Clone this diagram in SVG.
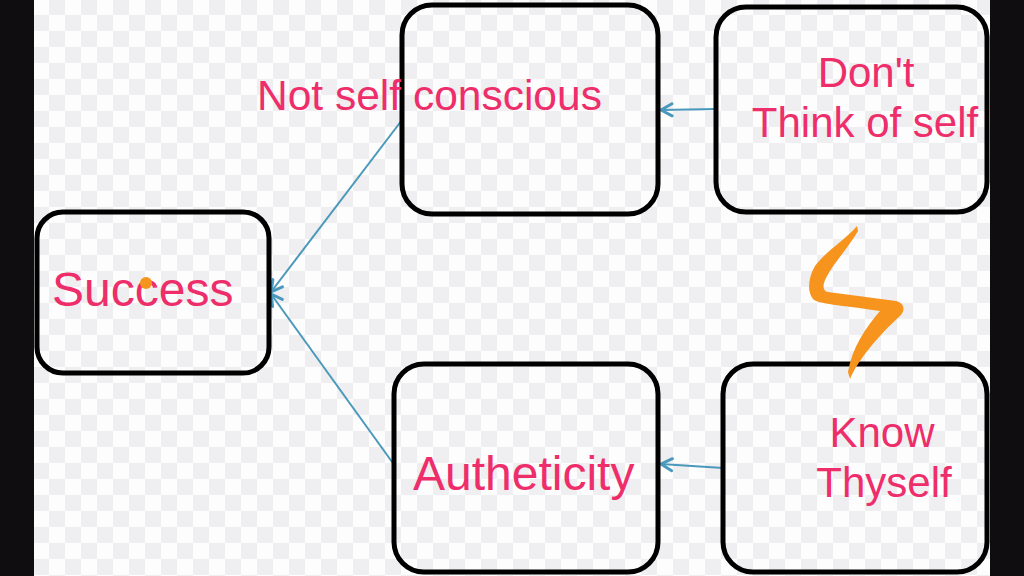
<svg xmlns="http://www.w3.org/2000/svg" width="1024" height="576" viewBox="0 0 1024 576">
<defs>
<pattern id="chk" x="33" y="-1" width="32" height="32" patternUnits="userSpaceOnUse">
<rect width="32" height="32" fill="#fdfdfd"/>
<rect x="16" y="0" width="16" height="16" fill="#efeef0"/>
<rect x="0" y="16" width="16" height="16" fill="#efeef0"/>
</pattern>
<marker id="ah" viewBox="0 0 16 16" refX="14" refY="8" markerWidth="16" markerHeight="16" markerUnits="userSpaceOnUse" orient="auto">
<path d="M3,2 L14,8 L3,14" fill="none" stroke="#4a98bb" stroke-width="3" stroke-linecap="round" stroke-linejoin="round"/>
</marker>
<style>
.box{fill:none;stroke:#000;stroke-width:5}
.lbl{font-family:"Liberation Sans",Arial,sans-serif;fill:#ee2e6b}
.con{fill:none;stroke:#4a98bb;stroke-width:2;marker-end:url(#ah)}
</style>
</defs>
<rect width="1024" height="576" fill="url(#chk)"/>
<rect x="0" y="0" width="34" height="576" fill="#0f0d10"/>
<rect x="990" y="0" width="34" height="576" fill="#0f0d10"/>
<g id="connectors">
<line class="con" x1="402" y1="120" x2="271" y2="292"/>
<line class="con" x1="395" y1="466" x2="271" y2="294"/>
<line class="con" x1="716" y1="109" x2="661" y2="110"/>
<line class="con" x1="723" y1="468" x2="661" y2="464"/>
</g>
<g id="success">
<rect class="box" x="37" y="212" width="232" height="161" rx="26"/>
<text class="lbl" x="52" y="306" font-size="48">Success</text>
<circle cx="146" cy="283" r="6" fill="#f7941d"/>
</g>
<g id="not-self-conscious">
<rect class="box" x="402" y="5" width="256" height="209" rx="30"/>
<text class="lbl" x="257" y="110" font-size="42.5">Not self conscious</text>
</g>
<g id="dont-think">
<rect class="box" x="716" y="7" width="271" height="205" rx="30"/>
<text class="lbl" x="866" y="87" font-size="42" text-anchor="middle">Don't</text>
<text class="lbl" x="865" y="137" font-size="42" text-anchor="middle">Think of self</text>
</g>
<g id="authenticity">
<rect class="box" x="394" y="364" width="264" height="208" rx="30"/>
<text class="lbl" x="413" y="490" font-size="48">Autheticity</text>
</g>
<g id="know-thyself">
<rect class="box" x="723" y="364" width="264" height="208" rx="30"/>
<text class="lbl" x="882" y="447" font-size="42" text-anchor="middle">Know</text>
<text class="lbl" x="884" y="497" font-size="42" text-anchor="middle">Thyself</text>
</g>
<path id="squiggle" fill="#f7941d" d="M857,226 C845,240 825,252 815,266 C808,278 807,292 813,299 C818,304 840,305 880,311 C866,327 852,348 848,372 L850,379 C858,360 878,336 900,316 C906,310 904,303 896,301 L828,292 C823,291 822,286 826,278 C833,264 848,248 858,231 Z"/>
</svg>
